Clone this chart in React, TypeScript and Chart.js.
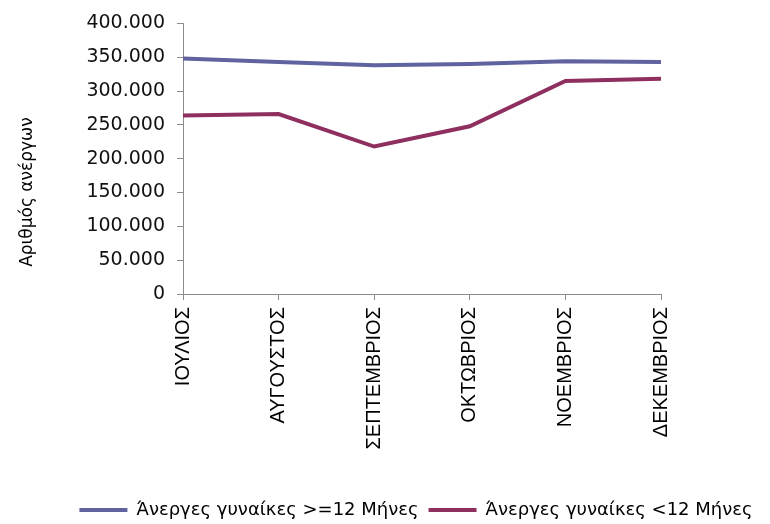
import { useEffect, useRef } from "react";
import { Chart, registerables } from "chart.js";
Chart.register(...registerables);

const categories = ["ΙΟΥΛΙΟΣ", "ΑΥΓΟΥΣΤΟΣ", "ΣΕΠΤΕΜΒΡΙΟΣ", "ΟΚΤΩΒΡΙΟΣ", "ΝΟΕΜΒΡΙΟΣ", "ΔΕΚΕΜΒΡΙΟΣ"];
const longTermValues = [348000, 343000, 338000, 340000, 344000, 343000];
const shortTermValues = [264000, 266000, 218000, 248000, 315000, 318000];
const seriesNames = ["Άνεργες γυναίκες >=12 Μήνες", "Άνεργες γυναίκες <12 Μήνες"];
const yAxisTitle = "Αριθμός ανέργων";
const yMin = 0;
const yMax = 400000;
const yStep = 50000;

const formatThousands = (v: number) =>
  String(Math.round(v)).replace(/\B(?=(\d{3})+(?!\d))/g, ".");

const titlePlugin = {
  id: "sideTitle",
  afterDraw(chart: any) {
    const ctx = chart.ctx;
    ctx.save();
    ctx.translate(28, 192);
    ctx.rotate(-Math.PI / 2);
    ctx.font = "17px 'DejaVu Sans'";
    ctx.fillStyle = "#000";
    ctx.textAlign = "center";
    ctx.textBaseline = "middle";
    ctx.fillText(yAxisTitle, 0, 0);
    ctx.restore();
  },
};

export default function App() {
  const ref = useRef<HTMLCanvasElement>(null);
  useEffect(() => {
    if (!ref.current) return;
    const chart = new Chart(ref.current, {
      type: "line",
      data: {
        labels: categories,
        datasets: [
          {
            label: seriesNames[0],
            data: longTermValues,
            borderColor: "#6063A0",
            backgroundColor: "#6063A0",
            borderWidth: 4,
            pointRadius: 0,
            tension: 0,
          },
          {
            label: seriesNames[1],
            data: shortTermValues,
            borderColor: "#8F2F5F",
            backgroundColor: "#8F2F5F",
            borderWidth: 4,
            pointRadius: 0,
            tension: 0,
          },
        ],
      },
      options: {
        responsive: false,
        animation: false,
        layout: { padding: { left: 62, top: 23, right: 0, bottom: -5 } },
        plugins: {
          tooltip: { enabled: false },
          legend: {
            position: "bottom",
            labels: {
              boxWidth: 48,
              boxHeight: 4,
              padding: 10,
              color: "#000",
              font: { family: "'DejaVu Sans'", size: 18 },
              generateLabels: (c: any) =>
                Chart.defaults.plugins.legend.labels
                  .generateLabels(c)
                  .map((l: any) => ({ ...l, lineWidth: 0, strokeStyle: l.fillStyle })),
            },
          },
        },
        scales: {
          x: {
            offset: false,
            grid: { display: true, drawOnChartArea: false, tickLength: 6, color: "#8c8c8c" },
            border: { color: "#8c8c8c" },
            ticks: {
              minRotation: 90,
              maxRotation: 90,
              padding: 7,
              color: "#000",
              font: { family: "'Liberation Sans'", size: 20 },
            },
            afterFit: (s: any) => {
              s.height = 197;
            },
          },
          y: {
            min: yMin,
            max: yMax,
            grid: { display: true, drawOnChartArea: false, tickLength: 6, color: "#8c8c8c" },
            border: { color: "#8c8c8c" },
            ticks: {
              stepSize: yStep,
              padding: 12,
              color: "#111",
              font: { family: "'DejaVu Sans'", size: 19 },
              callback: (v: any) => formatThousands(Number(v)),
            },
            afterFit: (s: any) => {
              s.width = 121;
            },
          },
          yRightSpace: {
            position: "right",
            display: true,
            grid: { display: false },
            border: { display: false },
            ticks: { display: false },
            afterFit: (s: any) => {
              s.width = 109;
            },
          },
        },
      },
      plugins: [titlePlugin],
    });
    return () => chart.destroy();
  }, []);
  return (
    <div style={{ position: "fixed", left: 0, top: 0, width: 770, height: 524, background: "#fff" }}>
      <canvas ref={ref} width={770} height={524} style={{ display: "block" }} />
    </div>
  );
}
